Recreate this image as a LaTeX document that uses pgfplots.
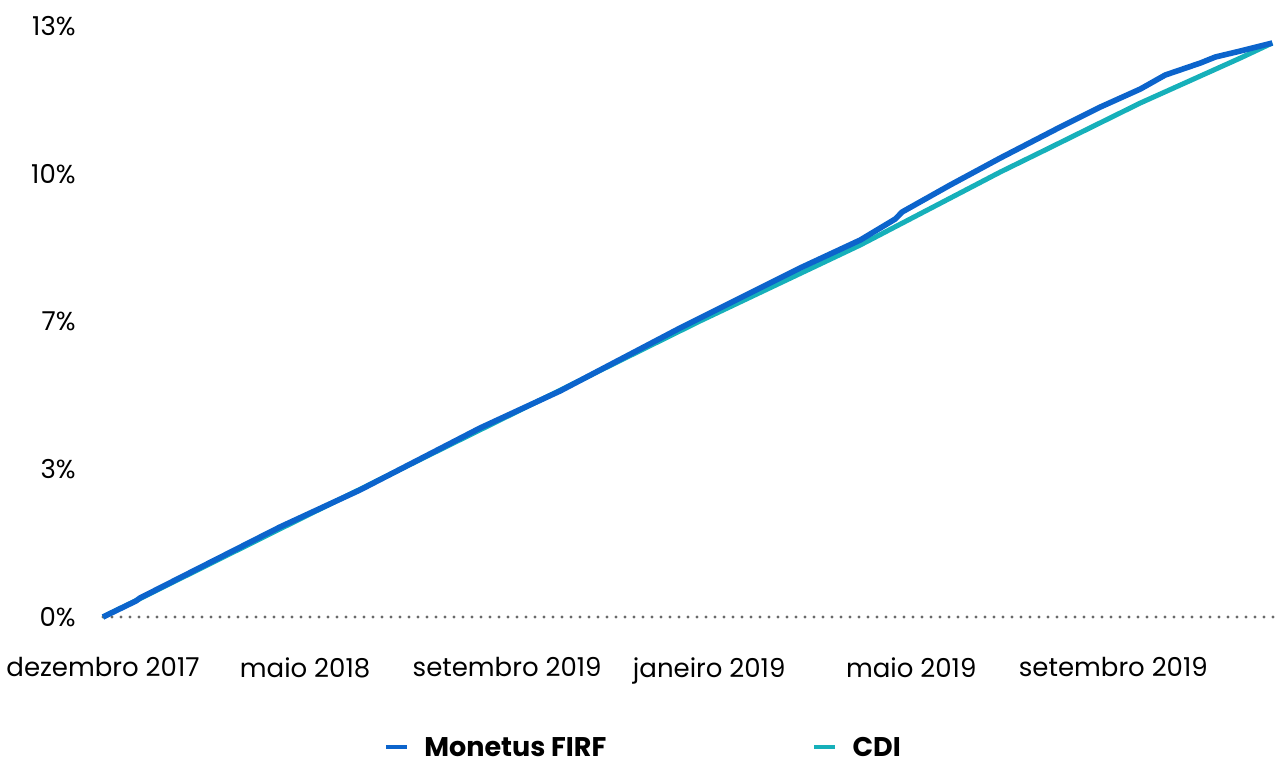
\documentclass[border=0pt]{standalone}
\usepackage{fontspec}
\setmainfont{Poppins}
\usepackage{pgfplots}
\pgfplotsset{compat=1.18}
\definecolor{monblue}{RGB}{12,100,204}
\definecolor{cditeal}{RGB}{22,176,186}
\definecolor{zerogray}{RGB}{105,105,105}
\begin{document}
\fontsize{13pt}{16pt}\selectfont
\begin{tikzpicture}
\useasboundingbox (-51.5pt,-71.5pt) rectangle (589.5pt,308.5pt);
\begin{axis}[
  at={(0pt,0pt)}, anchor=south west,
  scale only axis,
  width=586pt, height=295.5pt,
  xmin=0, xmax=5.80, ymin=0, ymax=13,
  axis line style={draw=none},
  major tick length=0pt,
  xtick={0,1,2,3,4,5},
  xticklabels={dezembro 2017, maio 2018, setembro 2019, janeiro 2019, maio 2019, setembro 2019},
  ytick={0,3.25,6.5,9.75,13},
  yticklabels={0\%,3\%,7\%,10\%,13\%},
  tick label style={font=\fontsize{13pt}{16pt}\selectfont, text=black},
  xticklabel style={anchor=north, inner sep=0pt, yshift=-20pt},
  yticklabel style={anchor=east, inner sep=0pt, xshift=-13.5pt},
  clip=false,
  legend columns=2,
  legend style={draw=none, fill=none, inner sep=0pt, outer sep=0pt,
    nodes={inner sep=0pt, outer sep=0pt, text depth=0pt},
    at={(140.5pt,-65pt)}, anchor=west,
    font=\bfseries\fontsize{13.5pt}{16pt}\selectfont,
    /tikz/every odd column/.append style={column sep=7.5pt},
    /tikz/every even column/.append style={column sep=103pt}},
  legend image code/.code={\draw[#1, line width=2.2pt] (0pt,0pt) -- (10.5pt,0pt);},
]
\addlegendimage{monblue}
\addlegendentry{Monetus FIRF}
\addlegendimage{cditeal}
\addlegendentry{CDI}
\addplot[forget plot, zerogray, line width=1.7pt, dash pattern=on 0pt off 4.5pt, line cap=round] coordinates {(0,0) (5.80,0)};
\addplot[forget plot, cditeal, line width=2.5pt] coordinates {
(0,0) (0.975,2.156) (1.965,4.333) (2.955,6.511) (3.748,8.183) (4.441,9.789)
(4.653,10.251) (5.134,11.307) (5.431,11.900) (5.629,12.296) (5.787,12.626)
};
\addplot[forget plot, monblue, line width=2.8pt, line join=round] coordinates {
(0,0) (0.163,0.352) (0.183,0.418) (0.876,1.980) (1.272,2.794) (1.866,4.157)
(2.262,4.971) (2.856,6.357) (3.252,7.237) (3.450,7.677) (3.748,8.293)
(3.921,8.755) (3.955,8.909) (4.193,9.503) (4.441,10.097) (4.738,10.779)
(4.936,11.218) (5.134,11.614) (5.257,11.922) (5.431,12.186) (5.505,12.318)
(5.629,12.450) (5.787,12.626)
};
\end{axis}
\end{tikzpicture}
\end{document}
